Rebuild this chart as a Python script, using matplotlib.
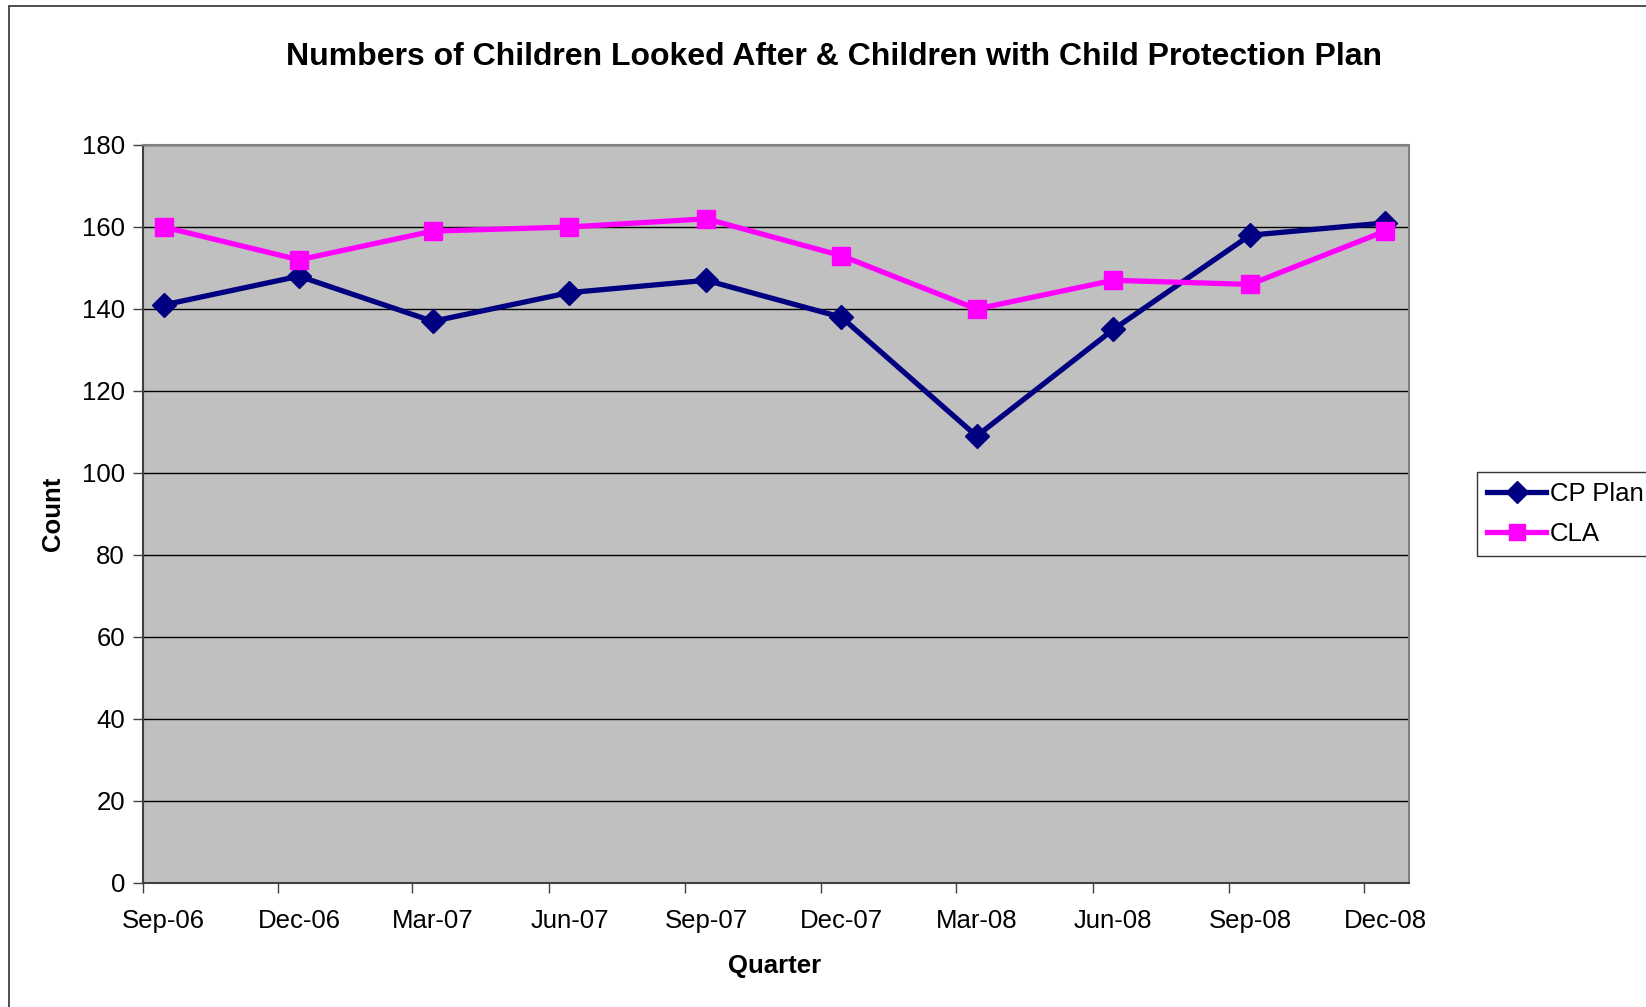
import matplotlib
matplotlib.use("Agg")
import matplotlib.pyplot as plt
from matplotlib.patches import Rectangle
import datetime as dt

plt.rcParams['font.family'] = ['Liberation Sans', 'DejaVu Sans']

quarters = ["Sep-06", "Dec-06", "Mar-07", "Jun-07", "Sep-07",
            "Dec-07", "Mar-08", "Jun-08", "Sep-08", "Dec-08"]
cp_plan = [141, 148, 137, 144, 147, 138, 109, 135, 158, 161]
cla = [160, 152, 159, 160, 162, 153, 140, 147, 146, 159]

tick_dates = [dt.datetime.strptime(q, "%b-%y") for q in quarters]
point_dates = [d.replace(day=15) for d in tick_dates]

fig = plt.figure(figsize=(16.46, 10.07), dpi=100)
fig.patch.set_facecolor("white")
fig.patches.append(Rectangle((9 / 1646, -0.1), 1.2, 1 - 6 / 1007 + 0.1,
                             transform=fig.transFigure, fill=False,
                             edgecolor="#303030", linewidth=1.2))

ax = fig.add_axes([143 / 1646, 1 - 883 / 1007, (1409 - 143) / 1646, (883 - 145) / 1007])
ax.set_facecolor("#C0C0C0")

ax.plot(point_dates, cp_plan, color="#000080", linewidth=3.8, marker="D",
        markersize=12.5, label="CP Plan", zorder=3)
ax.plot(point_dates, cla, color="#FF00FF", linewidth=3.8, marker="s",
        markersize=13.5, label="CLA", zorder=4)

ax.set_ylim(0, 180)
ax.set_yticks(range(0, 181, 20))
ax.set_xlim(tick_dates[0], dt.datetime(2008, 12, 31))
ax.set_xticks(tick_dates)
ax.set_xticklabels([""] * len(tick_dates))
ax.set_xticks(point_dates, minor=True)
ax.set_xticklabels(quarters, minor=True)
ax.tick_params(axis="x", which="minor", length=0, pad=19, labelsize=18.5)
ax.tick_params(axis="x", which="major", length=7, width=1, color="#404040", direction="out")
ax.tick_params(axis="y", length=7, width=1, color="#404040", direction="out", labelsize=18.5, pad=6)
ax.grid(axis="y", color="black", linewidth=1)
ax.set_axisbelow(True)
for side in ["top", "right"]:
    ax.spines[side].set_color("#808080")
    ax.spines[side].set_linewidth(1.5)
for side in ["left", "bottom"]:
    ax.spines[side].set_color("#404040")
    ax.spines[side].set_linewidth(1.5)

fig.text(834 / 1646, 1 - 57 / 1007, "Numbers of Children Looked After & Children with Child Protection Plan",
         ha="center", va="center", fontsize=23, fontweight="bold")
fig.text(775 / 1646, 1 - 966 / 1007, "Quarter", ha="center", va="center",
         fontsize=18.5, fontweight="bold")
fig.text(53 / 1646, 1 - 514 / 1007, "Count", ha="center", va="center",
         fontsize=18.5, fontweight="bold", rotation=90)

leg = fig.legend(loc="upper left", bbox_to_anchor=(1477 / 1646, 1 - 472 / 1007),
                 fontsize=18.5, frameon=True, fancybox=False, borderaxespad=0,
                 handlelength=2.3, handletextpad=0.15, labelspacing=0.6,
                 borderpad=0.4, markerscale=0.9)
leg.get_frame().set_edgecolor("black")
leg.get_frame().set_linewidth(1)

fig.savefig("out.png", dpi=100)
